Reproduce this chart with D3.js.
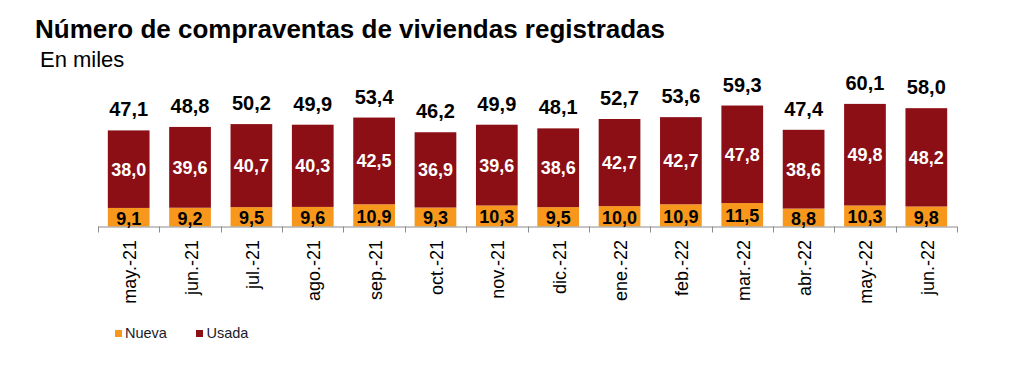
<!DOCTYPE html>
<html><head><meta charset="utf-8">
<script src="https://cdn.jsdelivr.net/npm/d3@7"></script>
<style>body{margin:0;background:#fff;} svg{display:block;font-family:"Liberation Sans",Arial,sans-serif;}</style>
</head><body>
<svg id="c" width="1024" height="380"></svg>
<script>
const categories = ["may.-21","jun.-21","jul.-21","ago.-21","sep.-21","oct.-21","nov.-21","dic.-21","ene.-22","feb.-22","mar.-22","abr.-22","may.-22","jun.-22"];
const nueva = [9.1,9.2,9.5,9.6,10.9,9.3,10.3,9.5,10.0,10.9,11.5,8.8,10.3,9.8];
const usada = [38.0,39.6,40.7,40.3,42.5,36.9,39.6,38.6,42.7,42.7,47.8,38.6,49.8,48.2];
const totals = [47.1,48.8,50.2,49.9,53.4,46.2,49.9,48.1,52.7,53.6,59.3,47.4,60.1,58.0];
const seriesNames = ["Nueva","Usada"];
const colors = {Nueva:"#F7981D", Usada:"#8B0F15"};

const svg = d3.select("#c");
const fmt = v => d3.format(".1f")(v).replace(".", ",");

svg.append("text").attr("x",35).attr("y",38).attr("font-size",26).attr("font-weight","bold").attr("fill","#000")
  .text("Número de compraventas de viviendas registradas");
svg.append("text").attr("x",40).attr("y",67).attr("font-size",22).attr("fill","#000").text("En miles");

const x0 = 98, x1 = 957, yBase = 226.5;
const x = d3.scaleBand().domain(categories).range([x0,x1]).paddingInner(0.32).paddingOuter(0.16);
const y = d3.scaleLinear().domain([0,70]).range([yBase, yBase-142.8]);

const data = categories.map((c,i)=>({c, n:nueva[i], u:usada[i], t:totals[i]}));
const stack = d3.stack().keys(["n","u"])(data);

const g = svg.append("g");
stack.forEach((layer,li)=>{
  g.append("g").selectAll("rect").data(layer).join("rect")
    .attr("x", d=>x(d.data.c)).attr("width", x.bandwidth())
    .attr("y", d=>y(d[1])).attr("height", d=>y(d[0])-y(d[1]))
    .attr("fill", colors[seriesNames[li]]);
});

// axis line + ticks at category boundaries
const step = x.step();
const ax = svg.append("g").attr("stroke","#8c8c8c").attr("stroke-width",1);
ax.append("line").attr("x1",x0).attr("x2",x1).attr("y1",yBase+0.5).attr("y2",yBase+0.5);
d3.range(categories.length+1).forEach(i=>{
  const xx = Math.round(x0 + i*step)+0.5;
  ax.append("line").attr("x1",xx).attr("x2",xx).attr("y1",yBase).attr("y2",yBase+6);
});

// labels
const lab = svg.append("g").attr("font-weight","bold").attr("text-anchor","middle");
data.forEach(d=>{
  const cx = x(d.c)+x.bandwidth()/2;
  lab.append("text").attr("x",cx).attr("y",y(d.t)-14).attr("font-size",20).attr("fill","#000").text(fmt(d.t));
  lab.append("text").attr("x",cx).attr("y",(y(d.n)+y(d.n+d.u))/2).attr("dy","0.36em").attr("font-size",18).attr("fill","#fff").text(fmt(d.u));
  lab.append("text").attr("x",cx).attr("y",(y(0)+y(d.n))/2+1).attr("dy","0.36em").attr("font-size",18).attr("fill","#000").text(fmt(d.n));
});

// x tick labels
svg.append("g").selectAll("text").data(categories).join("text")
  .attr("transform", c=>`translate(${x(c)+x.bandwidth()/2+1},240) rotate(-90)`)
  .attr("text-anchor","end").attr("dy","0.36em").attr("font-size",18).attr("fill","#000").text(c=>c);

// legend
const leg = svg.append("g");
[[115,125,"Nueva"],[196,206.5,"Usada"]].forEach(([sx,tx,name])=>{
  leg.append("rect").attr("x",sx).attr("y",330).attr("width",7).attr("height",7).attr("fill",colors[name]);
  leg.append("text").attr("x",tx).attr("y",337.5).attr("font-size",14.5).attr("fill","#1a1a2a").text(name);
});
</script>
</body></html>
